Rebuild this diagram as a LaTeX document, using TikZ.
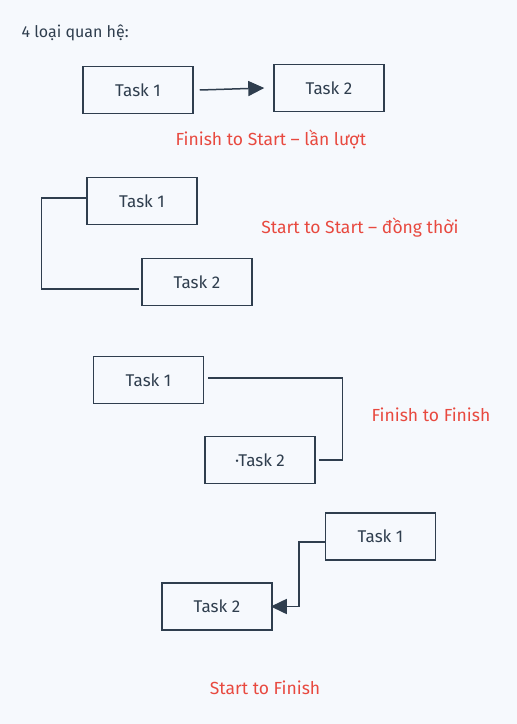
\documentclass[tikz,border=0pt]{standalone}
\usepackage{fontspec}
\setmainfont{Fira Sans}
\usetikzlibrary{arrows.meta}
\definecolor{bgpage}{HTML}{F6F9FD}
\definecolor{ink}{HTML}{2F3E4E}
\definecolor{labelred}{HTML}{E8493F}
\tikzset{
  taskbox/.style={draw=ink, line width=1.5pt, rectangle, minimum width=110pt, minimum height=47pt, inner sep=0pt, text=ink, font=\fontsize{17}{20}\selectfont},
  link/.style={draw=ink, line width=1.5pt},
  linkarrow/.style={link, -{Triangle[length=16pt,width=15pt]}},
  kind/.style={text=labelred, font=\fontsize{17.5}{21}\selectfont}
}
\begin{document}
\begin{tikzpicture}[x=1pt, y=-1pt]
\fill[bgpage] (0,0) rectangle (517,724);
\useasboundingbox (0,0) rectangle (517,724);
\node[anchor=west, text=ink, font=\fontsize{16}{19}\selectfont] (title) at (18,33){4 loại quan hệ:};
% finish to start
\node[taskbox] (t1fs) at (138,90){Task 1};
\node[taskbox] (t2fs) at (329,88){Task 2};
\draw[linkarrow] ([xshift=6pt]t1fs.east) -- ([xshift=-9pt]t2fs.west);
\node[kind] (kfs) at (271,139){Finish to Start -- lần lượt};
% start to start
\node[taskbox] (t1ss) at (142,201){Task 1};
\node[taskbox] (t2ss) at (197,282){Task 2};
\draw[link] ([yshift=3pt]t1ss.west) -- ++(-45,0) |- ([xshift=-2pt,yshift=-7pt]t2ss.west);
\node[kind] (kss) at (360,228){Start to Start -- đồng thời};
% finish to finish
\node[taskbox] (t1ff) at (148.5,380){Task 1};
\node[taskbox] (t2ff) at (260,460){·Task 2};
\draw[link] ([xshift=4pt,yshift=2pt]t1ff.east) -- ++(134,0) |- ([xshift=3pt]t2ff.east);
\node[kind] (kff) at (431,415){Finish to Finish};
% start to finish
\node[taskbox] (t1sf) at (380.5,536.5){Task 1};
\node[taskbox] (t2sf) at (217,606.5){Task 2};
\draw[linkarrow] ([yshift=-5.5pt]t1sf.west) -- ++(-26,0) |- ([xshift=-2pt]t2sf.east);
\node[kind] (ksf) at (265,688){Start to Finish};
\end{tikzpicture}
\end{document}
